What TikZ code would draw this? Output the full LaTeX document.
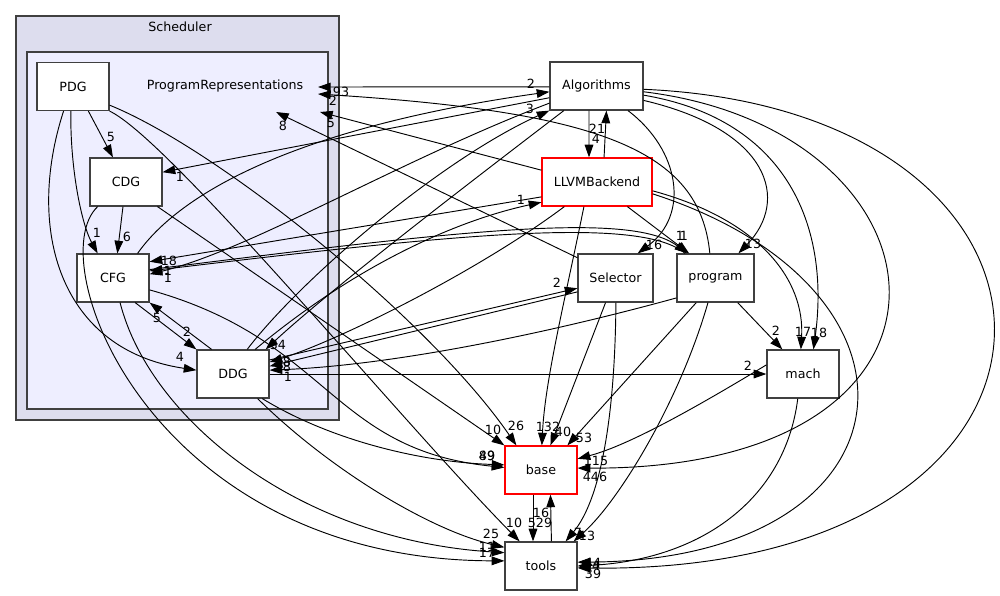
\documentclass[tikz,border=0pt]{standalone}
\usepackage{fontspec}
\setmainfont{DejaVu Sans}
\usetikzlibrary{arrows.meta}
\definecolor{outerfill}{HTML}{DDDDEE}
\definecolor{innerfill}{HTML}{EEEEFF}
\definecolor{boxgray}{HTML}{404040}
\begin{document}
\begin{tikzpicture}[x=0.75pt,y=-0.75pt,
    dir/.style={draw=boxgray,fill=white,line width=0.9pt,minimum width=54pt,minimum height=36pt,inner sep=0pt,font=\fontsize{9.5}{11}\selectfont},
    reddir/.style={dir,draw=red},
    lbl/.style={inner sep=0pt,font=\fontsize{9.5}{11}\selectfont},
    dep/.style={-{Triangle[length=9.5pt,width=6.5pt]},line width=0.7pt}]
  \useasboundingbox (0,0) rectangle (1000,596);
  \fill[white] (0,0) rectangle (1000,596);
  \draw[boxgray,line width=1.1pt,fill=outerfill] (16,16) rectangle (339,420);
  \draw[boxgray,line width=1.1pt,fill=innerfill] (27,52) rectangle (328,409);
  \draw
    (180,27) node[lbl] (Scheduler){Scheduler}
    (225,86) node[lbl] (ProgramRepresentations){ProgramRepresentations}
    (73,86.5) node[dir] (PDG){PDG}
    (126,182) node[dir] (CDG){CDG}
    (113,278) node[dir] (CFG){CFG}
    (233,374) node[dir] (DDG){DDG}
    (596.5,86) node[dir,minimum width=69.75pt] (Algorithms){Algorithms}
    (597,182) node[reddir,minimum width=82.5pt] (LLVMBackend){LLVMBackend}
    (615.5,278) node[dir,minimum width=56.25pt] (Selector){Selector}
    (715.5,278) node[dir,minimum width=57.75pt] (program){program}
    (803,374) node[dir] (mach){mach}
    (541,470) node[reddir] (base){base}
    (541,566) node[dir] (tools){tools};
  \coordinate (pr1) at (318,87);
  \coordinate (pr2) at (318,94);
  \coordinate (pr3) at (320,112);
  \coordinate (pr4) at (276,112);
  \begin{scope}[dep]
    \draw (PDG.-58) to (CDG.118) node[lbl,at={(111,137)}]{5};
    \draw (PDG.-95) .. controls (70,170) and (82,225) .. (CFG.122) node[lbl,at={(97,233)}]{1};
    \draw (PDG.-111) .. controls (25,230) and (60,350) .. (DDG.174) node[lbl,at={(180,357)}]{4};
    \draw (PDG.-27) .. controls (220,150) and (430,320) .. (base.135) node[lbl,at={(516,426)}]{26};
    \draw (PDG.south east) .. controls (170,140) and (400,420) .. (tools.131) node[lbl,at={(514,523)}]{10};
    \draw (CDG.-97) to (CFG.80) node[lbl,at={(127,237)}]{6};
    \draw (CDG.-38) to (base.north west) node[lbl,at={(493,430)}]{10};
    \draw (CDG.-139) .. controls (40,260) and (150,560) .. (tools.172) node[lbl,at={(487,553)}]{17};
    \draw (CFG.-48) to (DDG.north west) node[lbl,at={(187,332)}]{2};
    \draw (CFG.45) .. controls (175,200) and (280,130) .. (Algorithms.187) node[lbl,at={(531,84)}]{2};
    \draw (CFG.13) .. controls (450,232) and (630,210) .. (program.139) node[lbl,at={(680,236)}]{1};
    \draw (CFG.-18) .. controls (330,340) and (330,450) .. (base.176) node[lbl,at={(487,456)}]{89};
    \draw (CFG.-74) .. controls (150,420) and (300,540) .. (tools.160) node[lbl,at={(487,547)}]{11};
    \draw (DDG.131) to (CFG.south east) node[lbl,at={(157,318)}]{5};
    \draw (DDG.60) .. controls (300,280) and (440,160) .. (Algorithms.south west) node[lbl,at={(530,109)}]{3};
    \draw (DDG.48) .. controls (350,270) and (450,222) .. (LLVMBackend.-160) node[lbl,at={(521,200)}]{1};
    \draw (DDG.21) to (Selector.195) node[lbl,at={(557,283)}]{2};
    \draw (DDG.0) to (mach.west) node[lbl,at={(748,366)}]{2};
    \draw (DDG.-40) .. controls (330,440) and (420,462) .. (base.172) node[lbl,at={(487,456)}]{49};
    \draw (DDG.-45) .. controls (330,470) and (430,530) .. (tools.153) node[lbl,at={(491,534)}]{25};
    \draw (Algorithms.181) to (pr1) node[lbl,at={(341,92)}]{93};
    \draw (Algorithms.194) to (CDG.15) node[lbl,at={(180,177)}]{1};
    \draw (Algorithms.200) .. controls (400,160) and (250,250) .. (CFG.6) node[lbl,at={(168,278)}]{1};
    \draw (Algorithms.-143) .. controls (460,190) and (330,290) .. (DDG.37) node[lbl,at={(278,345)}]{34};
    \draw (Algorithms.-107) to (LLVMBackend.108) node[lbl,at={(596,139)}]{4};
    \draw (Algorithms.-38) .. controls (680,150) and (690,215) .. (Selector.48) node[lbl,at={(654,245)}]{16};
    \draw (Algorithms.-17) .. controls (770,130) and (790,200) .. (program.47) node[lbl,at={(753,244)}]{13};
    \draw (Algorithms.-11) .. controls (790,120) and (830,230) .. (mach.67) node[lbl,at={(819,333)}]{18};
    \draw (Algorithms.-7) .. controls (960,130) and (1000,470) .. (base.3) node[lbl,at={(595,477)}]{446};
    \draw (Algorithms.-4) .. controls (1120,110) and (1120,575) .. (tools.-3) node[lbl,at={(593,574)}]{39};
    \draw (LLVMBackend.74) to (Algorithms.-68) node[lbl,at={(597,129)}]{21};
    \draw (LLVMBackend.168) to (pr3) node[lbl,at={(331,123)}]{5};
    \draw (LLVMBackend.195) to (CFG.24) node[lbl,at={(169,261)}]{18};
    \draw (LLVMBackend.-39) to (program.137) node[lbl,at={(684,236)}]{1};
    \draw (LLVMBackend.-143) .. controls (480,270) and (340,340) .. (DDG.18) node[lbl,at={(287,362)}]{8};
    \draw (LLVMBackend.-118) .. controls (565,300) and (545,380) .. (base.88) node[lbl,at={(548,427)}]{132};
    \draw (LLVMBackend.-9) .. controls (760,220) and (805,280) .. (mach.95) node[lbl,at={(803,332)}]{17};
    \draw (LLVMBackend.-12) .. controls (950,290) and (920,560) .. (tools.6) node[lbl,at={(593,563)}]{44};
    \draw (Selector.152) to (pr4) node[lbl,at={(283,126)}]{8};
    \draw (Selector.200) to (DDG.12) node[lbl,at={(287,367)}]{8};
    \draw (Selector.-112) to (base.69) node[lbl,at={(563,432)}]{40};
    \draw (Selector.-89) .. controls (615,420) and (600,500) .. (tools.45) node[lbl,at={(578,533)}]{7};
    \draw (program.103) .. controls (700,150) and (600,112) .. (pr2) node[lbl,at={(333,101)}]{2};
    \draw (program.141) .. controls (640,215) and (450,235) .. (CFG.11) node[lbl,at={(168,271)}]{1};
    \draw (program.207) .. controls (560,330) and (400,365) .. (DDG.6) node[lbl,at={(288,377)}]{1};
    \draw (program.-128) to (base.43) node[lbl,at={(584,438)}]{53};
    \draw (program.-107) .. controls (680,400) and (620,500) .. (tools.37) node[lbl,at={(587,536)}]{13};
    \draw (program.-48) to (mach.130) node[lbl,at={(776,331)}]{2};
    \draw (mach.166) .. controls (700,405) and (630,445) .. (base.17) node[lbl,at={(596,461)}]{115};
    \draw (mach.-102) .. controls (785,500) and (700,560) .. (tools.0) node[lbl,at={(592,566)}]{34};
    \draw (base.-108) to (tools.108) node[lbl,at={(540,523)}]{529};
    \draw (tools.67) to (base.-69) node[lbl,at={(541,513)}]{16};
  \end{scope}
\end{tikzpicture}
\end{document}
